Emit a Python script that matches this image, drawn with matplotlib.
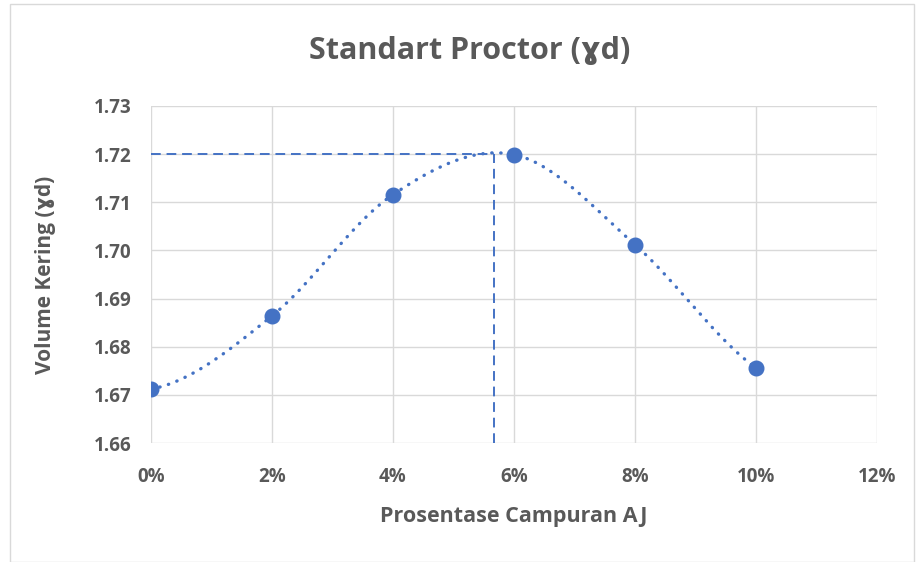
import numpy as np
import matplotlib
matplotlib.use("Agg")
import matplotlib.pyplot as plt
from matplotlib.patches import Rectangle

plt.rcParams['font.family'] = ['Open Sans', 'DejaVu Sans']

# data
campuran = [0.00, 0.02, 0.04, 0.06, 0.08, 0.10]
gamma_d = [1.6712, 1.6864, 1.7116, 1.7199, 1.7012, 1.6756]
opt_x = 0.0567
opt_y = 1.720
xticks = [0.00, 0.02, 0.04, 0.06, 0.08, 0.10, 0.12]
xlabels = ['0%', '2%', '4%', '6%', '8%', '10%', '12%']
yticks = [1.66, 1.67, 1.68, 1.69, 1.70, 1.71, 1.72, 1.73]

blue = '#4472C4'
grey = '#595959'


def smooth(xs, ys, n=40):
    # hermite spline through the points (excel-like smoothed line)
    xs = np.asarray(xs, float)
    ys = np.asarray(ys, float)
    k = len(xs)
    mx = np.zeros(k)
    my = np.zeros(k)
    for i in range(1, k - 1):
        mx[i] = (xs[i + 1] - xs[i - 1]) / 2
        my[i] = (ys[i + 1] - ys[i - 1]) / 2
    # flatter end tangents, as the excel curve eases into the end points
    mx[0] = xs[1] - xs[0]
    my[0] = (ys[1] - ys[0]) * 0.3
    mx[-1] = xs[-1] - xs[-2]
    my[-1] = (ys[-1] - ys[-2]) * 0.7
    t = np.linspace(0, 1, n)
    h00 = 2*t**3 - 3*t**2 + 1
    h10 = t**3 - 2*t**2 + t
    h01 = -2*t**3 + 3*t**2
    h11 = t**3 - t**2
    ox, oy = [], []
    for i in range(k - 1):
        ox.extend(h00*xs[i] + h10*mx[i] + h01*xs[i+1] + h11*mx[i+1])
        oy.extend(h00*ys[i] + h10*my[i] + h01*ys[i+1] + h11*my[i+1])
    return ox, oy


fig = plt.figure(figsize=(9.18, 5.62), dpi=100)
fig.patches.append(Rectangle((0.011, 0.0), 0.985, 0.993, transform=fig.transFigure,
                             fill=False, edgecolor='#d9d9d9', lw=1))
ax = fig.add_axes([0.1645, 0.2117, 0.7908, 0.5997])

sx, sy = smooth(campuran, gamma_d)
ax.plot(sx, sy, color=blue, lw=2.4, dashes=(0.1, 2.6), dash_capstyle='round')
ax.plot(campuran, gamma_d, 'o', color=blue, ms=10.5, zorder=5)
ax.plot([0, opt_x], [opt_y, opt_y], '--', color=blue, lw=1.4, dashes=(5, 3))
ax.plot([opt_x, opt_x], [1.66, opt_y], '--', color=blue, lw=1.4, dashes=(5, 3))

ax.set_xlim(0, 0.12)
ax.set_ylim(1.66, 1.73)
ax.set_xticks(xticks)
ax.set_xticklabels(xlabels)
ax.set_yticks(yticks)
ax.set_yticklabels(['%.2f' % v for v in yticks])
ax.grid(True, color='#d9d9d9', lw=1)
ax.set_axisbelow(True)
for s in ax.spines.values():
    s.set_visible(False)
ax.tick_params(length=0, labelsize=13.5, labelcolor=grey)
ax.tick_params(axis='x', pad=17)
ax.tick_params(axis='y', pad=14)
for lab in ax.get_xticklabels() + ax.get_yticklabels():
    lab.set_fontweight('bold')

fig.text(0.512, 0.91, 'Standart Proctor (ɣd)', ha='center', va='center',
         fontsize=22, fontweight='bold', color=grey)
ax.set_xlabel('Prosentase Campuran AJ', fontsize=15.5, fontweight='bold', color=grey, labelpad=14)
ax.set_ylabel('Volume Kering (ɣd)', fontsize=15, fontweight='bold', color=grey, labelpad=27)

plt.savefig('out.png', dpi=100)
